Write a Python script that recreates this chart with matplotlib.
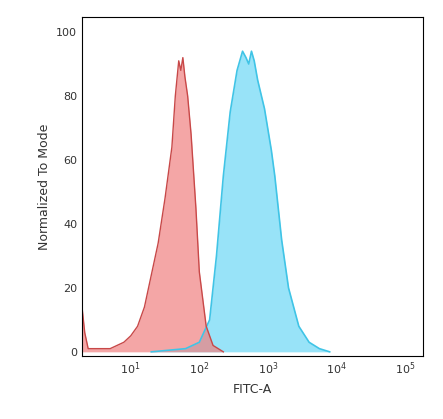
import numpy as np
import matplotlib
matplotlib.use("Agg")
import matplotlib.pyplot as plt

red_logx = [0.29, 0.33, 0.38, 0.45, 0.7, 0.9, 1.0, 1.1, 1.2, 1.3, 1.4, 1.5, 1.6, 1.65, 1.7, 1.73, 1.76, 1.79, 1.83, 1.88, 1.95, 2.0, 2.1, 2.2, 2.35]
red_y = [14, 6, 1, 1, 1, 3, 5, 8, 14, 24, 34, 48, 64, 80, 91, 88, 92, 86, 80, 68, 45, 25, 8, 2, 0]
blue_logx = [1.3, 1.8, 2.0, 2.15, 2.25, 2.35, 2.45, 2.55, 2.63, 2.68, 2.72, 2.76, 2.8, 2.85, 2.95, 3.05, 3.1, 3.2, 3.3, 3.45, 3.6, 3.75, 3.9]
blue_y = [0, 1, 3, 10, 30, 55, 75, 88, 94, 92, 90, 94, 91, 85, 76, 63, 55, 35, 20, 8, 3, 1, 0]

fig = plt.figure(figsize=(4.43, 4.19), dpi=100)
ax = fig.add_axes([82/443, 1-356/419, (423-82)/443, (356-17)/419])
rx = 10**np.array(red_logx); bx = 10**np.array(blue_logx)
ax.fill_between(bx, blue_y, color='#7fdcf7', alpha=0.8, lw=0)
ax.plot(bx, blue_y, color='#40c4e6', lw=1.2)
ax.fill_between(rx, red_y, color='#f08080', alpha=0.7, lw=0)
ax.plot(rx, red_y, color='#c84848', lw=1.0)
ax.set_xscale('log')
ax.set_xlim(10**0.29, 10**5.26)
ax.set_ylim(-1.3, 104.7)
ax.set_yticks([0, 20, 40, 60, 80, 100])
ax.set_xticks([10, 100, 1000, 1e4, 1e5])
ax.minorticks_off()
ax.tick_params(length=0, labelsize=8, colors='#333333')
ax.set_xlabel('FITC-A', fontsize=9, color='#333333')
ax.set_ylabel('Normalized To Mode', fontsize=9, color='#333333')
fig.savefig('out.png', dpi=100)
